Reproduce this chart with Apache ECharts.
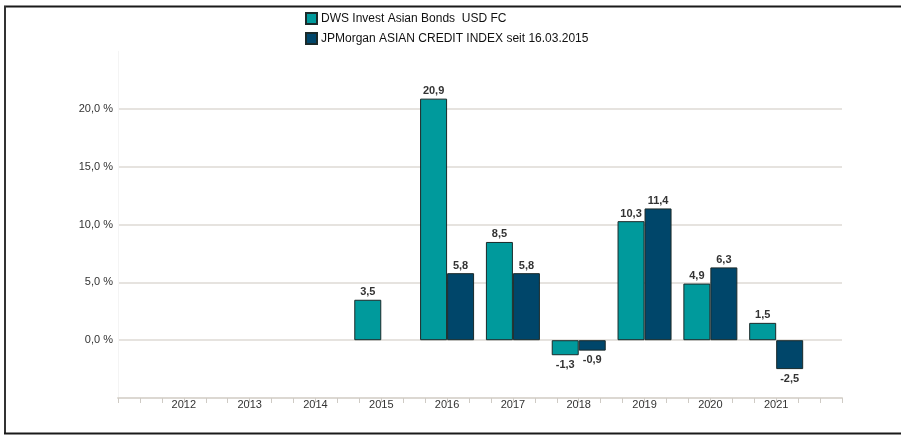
<!DOCTYPE html>
<html>
<head>
<meta charset="utf-8">
<script src="https://cdn.jsdelivr.net/npm/echarts@6/dist/echarts.min.js"></script>
<style>html,body{margin:0;padding:0;background:#fff}#c{width:901px;height:435px}</style>
</head>
<body>
<div id="c"></div>
<script>
const categories = ['2011', '2012', '2013', '2014', '2015', '2016', '2017', '2018', '2019', '2020', '2021', '2022'];
const dwsValues = [null, null, null, null, 3.5, 20.9, 8.5, -1.3, 10.3, 4.9, 1.5, null];
const jpmValues = [null, null, null, null, null, 5.8, 5.8, -0.9, 11.4, 6.3, -2.5, null];
const seriesNames = ['DWS Invest Asian Bonds  USD FC', 'JPMorgan ASIAN CREDIT INDEX seit 16.03.2015'];
const yMin = -5, yMax = 25, yStep = 5;

const fmt = v => v.toFixed(1).replace('.', ',');
const toItems = arr => arr.map(v => v == null ? null : ({
  value: v,
  label: v < 0 ? {position: 'bottom', distance: 4} : {position: 'top', distance: 2}
}));

const chart = echarts.init(document.getElementById('c'));
const font = 'Liberation Sans, Arial, sans-serif';
const labelCfg = {
  show: true, fontFamily: font, fontSize: 11, fontWeight: 'bold', color: '#333',
  formatter: p => fmt(p.value)
};
chart.setOption({
  animation: false,
  textStyle: {fontFamily: font},
  grid: {left: 118, right: 59, top: 51.25, bottom: 37},
  legend: {
    orient: 'vertical', left: 300, top: 7, itemGap: 7,
    itemWidth: 11, itemHeight: 11, icon: 'rect',
    textStyle: {fontFamily: font, fontSize: 12, color: '#111', padding: [0, 0, 0, -1]},
    data: seriesNames
  },
  xAxis: [{
    type: 'category', data: categories, boundaryGap: false,
    axisLine: {onZero: false, lineStyle: {color: '#dcd8d2', width: 2}},
    axisTick: {show: false},
    splitLine: {show: false},
    axisLabel: {
      margin: 1, fontFamily: font, fontSize: 11, color: '#333',
      interval: 0,
      formatter: (v, i) => (i === 0 || i === categories.length - 1) ? '' : v
    }
  }, {
    type: 'value', min: 0, max: 33, interval: 1, position: 'bottom',
    axisLine: {show: false, onZero: false},
    axisTick: {show: true, length: 5, lineStyle: {color: '#cfcbc5'}},
    axisLabel: {show: false},
    splitLine: {show: false}
  }],
  yAxis: {
    type: 'value', min: yMin, max: yMax, interval: yStep,
    axisLine: {show: true, onZero: false, lineStyle: {color: '#f4f4f4'}},
    axisTick: {show: false},
    axisLabel: {
      margin: 5, fontFamily: font, fontSize: 11, color: '#333',
      formatter: v => (v === yMin || v === yMax) ? '' : fmt(v) + ' %'
    },
    splitLine: {lineStyle: {color: ['transparent', '#dedad4', '#dedad4', '#dedad4', '#dedad4', '#dedad4', 'transparent'], width: 1.5}}
  },
  series: [{
    name: seriesNames[0], type: 'bar', data: toItems(dwsValues),
    barWidth: 27, barGap: '0%',
    itemStyle: {color: '#009a9c', borderColor: '#1a2a2a', borderWidth: 1},
    label: labelCfg
  }, {
    name: seriesNames[1], type: 'bar', data: toItems(jpmValues),
    barWidth: 27, barGap: '0%',
    itemStyle: {color: '#00466a', borderColor: '#1a2a2a', borderWidth: 1},
    label: labelCfg
  }],
  graphic: [
    {type: 'line', shape: {x1: 4, y1: 6.5, x2: 901, y2: 6.5}, style: {stroke: '#1a1a1a', lineWidth: 2}},
    {type: 'line', shape: {x1: 5, y1: 6, x2: 5, y2: 434}, style: {stroke: '#333', lineWidth: 2}},
    {type: 'line', shape: {x1: 4, y1: 433.5, x2: 901, y2: 433.5}, style: {stroke: '#1a1a1a', lineWidth: 2}}
  ]
});
</script>
</body>
</html>
